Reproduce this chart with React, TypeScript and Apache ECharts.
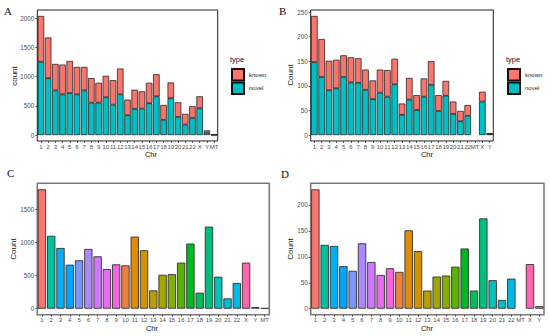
import React, { useEffect, useRef } from "react";
import * as echarts from "echarts";

// ---------- data ----------
const CHR_A = ["1","2","3","4","5","6","7","8","9","10","11","12","13","14","15","16","17","18","19","20","21","22","X","Y","MT"];
const NOVEL_A = [1255, 975, 765, 697, 720, 697, 765, 555, 555, 646, 521, 697, 340, 448, 453, 544, 663, 261, 629, 312, 181, 295, 459, 40, 3];
const KNOWN_A = [785, 696, 453, 510, 549, 470, 402, 420, 340, 368, 419, 442, 266, 328, 295, 351, 379, 255, 272, 249, 182, 198, 204, 40, 2];

const CHR_B = ["1","2","3","4","5","6","7","8","9","10","11","12","13","14","15","16","17","18","19","20","21","22","MT","X","Y"];
const NOVEL_B = [148, 118, 91, 95, 118, 107, 106, 92, 73, 86, 78, 103, 41, 72, 51, 78, 102, 49, 80, 43, 28, 39, null, 68, 2];
const KNOWN_B = [94, 77, 60, 58, 44, 51, 50, 41, 38, 47, 54, 52, 23, 44, 30, 37, 48, 32, 30, 25, 21, 22, null, 20, 2];

const CHR_C = ["1","2","3","4","5","6","7","8","9","10","11","12","13","14","15","16","17","18","19","20","21","22","X","Y","MT"];
const COUNT_C = [1800, 1100, 916, 664, 730, 901, 790, 599, 669, 654, 1087, 881, 277, 512, 522, 695, 982, 242, 1238, 483, 156, 388, 695, 25, 10];

const CHR_D = ["1","2","3","4","5","6","7","8","9","10","11","12","13","14","15","16","17","18","19","20","21","22","MT","X","Y"];
const COUNT_D = [230, 123, 121, 82, 73, 126, 90, 65, 78, 71, 151, 111, 35, 62, 64, 81, 116, 35, 174, 55, 17, 58, null, 86, 5];

const TICKS_A = [0, 500, 1000, 1500, 2000];
const TICKS_B = [0, 50, 100, 150, 200, 250];
const TICKS_C = [0, 500, 1000, 1500];
const TICKS_D = [0, 50, 100, 150, 200];

// factor levels as ggplot sorts them (alphabetically as strings)
const LEVELS = [...CHR_C].sort();

// ---------- helpers ----------
function hcl(h: number, c = 100, l = 65): string {
  const hr = (h * Math.PI) / 180;
  const U = c * Math.cos(hr), V = c * Math.sin(hr);
  const Xn = 95.047, Yn = 100, Zn = 108.883;
  const den = Xn + 15 * Yn + 3 * Zn;
  const un = (4 * Xn) / den, vn = (9 * Yn) / den;
  const Y = Yn * Math.pow((l + 16) / 116, 3);
  const u = U / (13 * l) + un, v = V / (13 * l) + vn;
  const X = (9 * Y * u) / (4 * v);
  const Z = (Y * (12 - 3 * u - 20 * v)) / (4 * v);
  const x = X / 100, y = Y / 100, z = Z / 100;
  const lin = [
    3.240479 * x - 1.53715 * y - 0.498535 * z,
    -0.969256 * x + 1.875992 * y + 0.041556 * z,
    0.055648 * x - 0.204043 * y + 1.057311 * z,
  ];
  return (
    "#" +
    lin
      .map((t) => {
        let g = t <= 0.0031308 ? 12.92 * t : 1.055 * Math.pow(t, 1 / 2.4) - 0.055;
        g = Math.min(1, Math.max(0, g));
        return Math.round(g * 255).toString(16).padStart(2, "0");
      })
      .join("")
  );
}
const huePal = (n: number) => Array.from({ length: n }, (_, i) => hcl(15 + (360 * i) / n));
const PALETTE = huePal(LEVELS.length);
const colorOf = (cat: string) => PALETTE[LEVELS.indexOf(cat)];

const FONT = "'Liberation Sans', Arial, sans-serif";
const SERIF = "'Liberation Serif', 'Times New Roman', serif";

const range = (vals: number[]) => {
  const m = Math.max(...vals);
  return { min: -0.05 * m, max: m * 1.05 };
};
const totals = (a: (number | null)[], b: (number | null)[]) => a.map((v, i) => (v ?? 0) + (b[i] ?? 0));

export default function App() {
  const ref = useRef<HTMLDivElement>(null);
  useEffect(() => {
    if (!ref.current) return;
    const chart = echarts.init(ref.current, undefined, { renderer: "svg" });

    const rA = range(totals(NOVEL_A, KNOWN_A));
    const rB = range(totals(NOVEL_B, KNOWN_B));
    const rC = range(COUNT_C.map((v) => v ?? 0));
    const rD = range(COUNT_D.map((v) => v ?? 0));

    const grids = [
      { left: 37.3, top: 10, width: 180.4, height: 131, show: true, borderColor: "#222", borderWidth: 1, backgroundColor: "transparent" },
      { left: 310.7, top: 10, width: 182.6, height: 131, show: true, borderColor: "#222", borderWidth: 1, backgroundColor: "transparent" },
      { left: 37.3, top: 183.3, width: 232, height: 131.4, show: true, borderColor: "#7a7a7a", borderWidth: 1.6, backgroundColor: "transparent" },
      { left: 310.7, top: 183.3, width: 233.3, height: 131.4, show: true, borderColor: "#7a7a7a", borderWidth: 1.6, backgroundColor: "transparent" },
    ];

    const xAxis = [CHR_A, CHR_B, CHR_C, CHR_D].map((cats, i) => ({
      type: "category",
      gridIndex: i,
      data: cats,
      axisLine: { show: false, onZero: false },
      axisTick: { show: true, alignWithLabel: true, length: 2, lineStyle: { color: "#333", width: 0.8 } },
      axisLabel: { interval: 0, fontSize: 6, color: "#4d4d4d", fontFamily: FONT, margin: 2.5 },
      splitLine: { show: false },
    }));

    const yAxis = [
      [rA, TICKS_A],
      [rB, TICKS_B],
      [rC, TICKS_C],
      [rD, TICKS_D],
    ].map(([r, ticks]: any, i) => ({
      type: "value",
      gridIndex: i,
      min: r.min,
      max: r.max,
      axisLine: { show: false },
      axisTick: { show: true, length: 2, customValues: ticks, lineStyle: { color: "#333", width: 0.8 } },
      axisLabel: {
        fontSize: 6.3, color: "#4d4d4d", fontFamily: FONT, margin: 3, customValues: ticks,
        formatter: (v: number) => String(Math.round(v)),
      },
      splitLine: { show: false },
    }));

    const stackStyle = (color: string) => ({ color, borderColor: "#111", borderWidth: 0.7 });

    const series: any[] = [
      { name: "novel", type: "bar", xAxisIndex: 0, yAxisIndex: 0, stack: "a", data: NOVEL_A, barCategoryGap: "10%", itemStyle: stackStyle("#00BFC4") },
      { name: "known", type: "bar", xAxisIndex: 0, yAxisIndex: 0, stack: "a", data: KNOWN_A, barCategoryGap: "10%", itemStyle: stackStyle("#F8766D") },
      { name: "novel", type: "bar", xAxisIndex: 1, yAxisIndex: 1, stack: "b", data: NOVEL_B, barCategoryGap: "10%", itemStyle: stackStyle("#00BFC4") },
      { name: "known", type: "bar", xAxisIndex: 1, yAxisIndex: 1, stack: "b", data: KNOWN_B, barCategoryGap: "10%", itemStyle: stackStyle("#F8766D") },
      {
        name: "countC", type: "bar", xAxisIndex: 2, yAxisIndex: 2, data: COUNT_C, barCategoryGap: "10%",
        itemStyle: { color: (p: any) => colorOf(CHR_C[p.dataIndex]), borderColor: "#333", borderWidth: 0.9 },
      },
      {
        name: "countD", type: "bar", xAxisIndex: 3, yAxisIndex: 3, data: COUNT_D, barCategoryGap: "10%",
        itemStyle: { color: (p: any) => colorOf(CHR_D[p.dataIndex]), borderColor: "#333", borderWidth: 0.9 },
      },
    ];

    const legendBase = {
      data: ["known", "novel"],
      orient: "vertical",
      top: 68,
      itemWidth: 12,
      itemHeight: 11.5,
      itemGap: 0,
      padding: 0,
      icon: "rect",
      selectedMode: false,
      textStyle: { fontSize: 6, color: "#222", fontFamily: FONT },
    };

    const txt = (text: string, x: number, y: number, size: number, opts: any = {}) => ({
      type: "text",
      x,
      y,
      rotation: opts.rotation ?? 0,
      silent: true,
      style: {
        text,
        fontSize: size,
        fontFamily: opts.family ?? FONT,
        fill: opts.fill ?? "#111",
        textAlign: opts.align ?? "center",
        textVerticalAlign: "middle",
      },
    });

    const graphic = [
      txt("A", 4, 11, 11, { family: SERIF, align: "left" }),
      txt("B", 279, 11, 11, { family: SERIF, align: "left" }),
      txt("C", 7, 173, 11, { family: SERIF, align: "left" }),
      txt("D", 281, 174, 11, { family: SERIF, align: "left" }),
      txt("count", 14, 76, 8, { rotation: Math.PI / 2 }),
      txt("Count", 290, 75, 8, { rotation: Math.PI / 2 }),
      txt("Count", 13.5, 249, 8, { rotation: Math.PI / 2 }),
      txt("Count", 290, 249, 8, { rotation: Math.PI / 2 }),
      txt("Chr", 151, 154.5, 7.5),
      txt("Chr", 427, 154.5, 7.5),
      txt("Chr", 152, 328.5, 7.5),
      txt("Chr", 427, 328.5, 7.5),
      txt("type", 230, 59.5, 7.5, { align: "left" }),
      txt("type", 506, 59.5, 7.5, { align: "left" }),
    ];

    chart.setOption({
      animation: false,
      backgroundColor: "#ffffff",
      grid: grids,
      xAxis,
      yAxis,
      series,
      legend: [
        { ...legendBase, left: 231 },
        { ...legendBase, left: 507 },
      ],
      graphic,
    } as any);

    return () => chart.dispose();
  }, []);

  return (
    <div
      ref={ref}
      style={{ position: "fixed", left: 0, top: 0, width: 550, height: 336, background: "#fff" }}
    />
  );
}
